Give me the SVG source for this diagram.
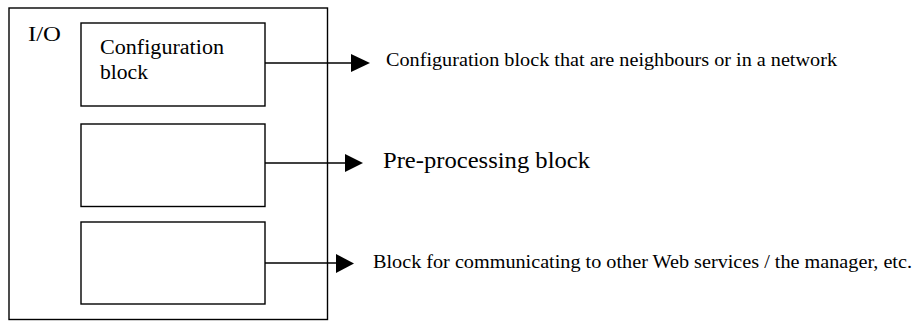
<svg xmlns="http://www.w3.org/2000/svg" width="916" height="321" viewBox="0 0 916 321">
<style>
.box{fill:#fff;stroke:#000;stroke-width:1.4}
.ln{stroke:#000;stroke-width:1.4;fill:none}
.ah{fill:#000}
text{font-family:"Liberation Serif","Times New Roman",serif;fill:#000}
</style>
<rect width="916" height="321" fill="#fff"/>
<g id="io">
<rect class="box" x="9" y="8" width="318.5" height="311.5"/>
<text x="28" y="41" font-size="21" textLength="33" lengthAdjust="spacingAndGlyphs">I/O</text>
</g>
<g id="config">
<rect class="box" x="81" y="23" width="184" height="83"/>
<text x="100" y="54" font-size="20.5" textLength="124" lengthAdjust="spacingAndGlyphs">Configuration</text>
<text x="100" y="79" font-size="20.5" textLength="48" lengthAdjust="spacingAndGlyphs">block</text>
</g>
<g id="preproc">
<rect class="box" x="81" y="124" width="184" height="82.5"/>
</g>
<g id="comm">
<rect class="box" x="81" y="222" width="184" height="82"/>
</g>
<g id="connectors">
<line class="ln" x1="265" y1="63" x2="352" y2="63"/>
<polygon class="ah" points="351,54 370,63 351,72"/>
<line class="ln" x1="265" y1="163" x2="346" y2="163"/>
<polygon class="ah" points="345,154 363,163 345,172"/>
<line class="ln" x1="265" y1="263" x2="337" y2="263"/>
<polygon class="ah" points="336,254 354,263.5 336,273"/>
</g>
<g id="labels">
<text x="386" y="66" font-size="19" textLength="451" lengthAdjust="spacingAndGlyphs">Configuration block that are neighbours or in a network</text>
<text x="383" y="168" font-size="23" textLength="207" lengthAdjust="spacingAndGlyphs">Pre-processing block</text>
<text x="373" y="268" font-size="19" textLength="539" lengthAdjust="spacingAndGlyphs">Block for communicating to other Web services / the manager, etc.</text>
</g>
</svg>
